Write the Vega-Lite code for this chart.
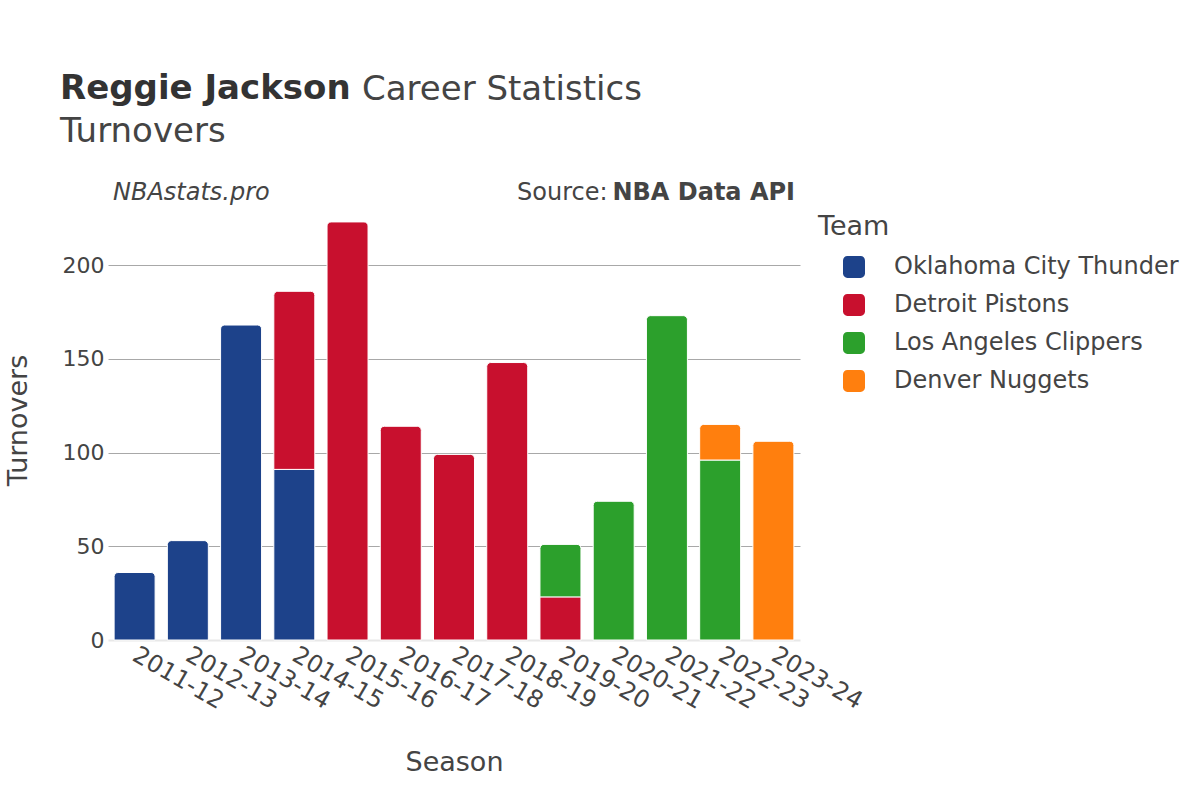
{
  "$schema": "https://vega.github.io/schema/vega-lite/v6.json",
  "width": 692,
  "height": 440,
  "autosize": {"type": "none"},
  "padding": {"left": 108, "top": 200, "right": 400, "bottom": 160},
  "background": "white",
  "config": {
    "font": "DejaVu Sans",
    "view": {"stroke": null}
  },
  "title": {
    "text": "Reggie Jackson",
    "subtitle": "Turnovers",
    "anchor": "start",
    "frame": "group",
    "dx": -48,
    "offset": -76,
    "fontSize": 34,
    "fontWeight": "bold",
    "color": "#333333",
    "subtitleFontSize": 34,
    "subtitleColor": "#444444",
    "subtitleFontWeight": "normal",
    "subtitlePadding": 9
  },
  "datasets": {
    "stats": [
      {"season": "2011-12", "team": "Oklahoma City Thunder", "turnovers": 36},
      {"season": "2012-13", "team": "Oklahoma City Thunder", "turnovers": 53},
      {"season": "2013-14", "team": "Oklahoma City Thunder", "turnovers": 168},
      {"season": "2014-15", "team": "Oklahoma City Thunder", "turnovers": 91},
      {"season": "2014-15", "team": "Detroit Pistons", "turnovers": 95},
      {"season": "2015-16", "team": "Detroit Pistons", "turnovers": 223},
      {"season": "2016-17", "team": "Detroit Pistons", "turnovers": 114},
      {"season": "2017-18", "team": "Detroit Pistons", "turnovers": 99},
      {"season": "2018-19", "team": "Detroit Pistons", "turnovers": 148},
      {"season": "2019-20", "team": "Detroit Pistons", "turnovers": 23},
      {"season": "2019-20", "team": "Los Angeles Clippers", "turnovers": 28},
      {"season": "2020-21", "team": "Los Angeles Clippers", "turnovers": 74},
      {"season": "2021-22", "team": "Los Angeles Clippers", "turnovers": 173},
      {"season": "2022-23", "team": "Los Angeles Clippers", "turnovers": 96},
      {"season": "2022-23", "team": "Denver Nuggets", "turnovers": 19},
      {"season": "2023-24", "team": "Denver Nuggets", "turnovers": 106}
    ],
    "notes": [
      {"label": "Career Statistics", "kind": "title"},
      {"label": "NBAstats.pro", "kind": "credit"},
      {"label": "Source:", "kind": "source"},
      {"label": "NBA Data API", "kind": "sourcebold"}
    ]
  },
  "layer": [
    {
      "data": {"name": "stats"},
      "transform": [
        {"window": [{"op": "row_number", "as": "idx"}]},
        {"stack": "turnovers", "groupby": ["season"], "sort": [{"field": "idx", "order": "ascending"}], "as": ["y0", "y1"]},
        {"joinaggregate": [{"op": "max", "field": "y1", "as": "top"}], "groupby": ["season"]},
        {"filter": "datum.y1 < datum.top"}
      ],
      "mark": {"type": "bar", "stroke": "white", "strokeWidth": 1},
      "encoding": {
        "x": {"field": "season", "type": "nominal",
          "sort": ["2011-12", "2012-13", "2013-14", "2014-15", "2015-16", "2016-17", "2017-18", "2018-19", "2019-20", "2020-21", "2021-22", "2022-23", "2023-24"],
          "scale": {"domain": ["2011-12", "2012-13", "2013-14", "2014-15", "2015-16", "2016-17", "2017-18", "2018-19", "2019-20", "2020-21", "2021-22", "2022-23", "2023-24"], "paddingInner": 0.23, "paddingOuter": 0.115},
          "axis": {"title": "Season", "labelAngle": 30, "labelAlign": "left", "labelBaseline": "middle",
            "labelFontSize": 24, "labelColor": "#444444", "ticks": false, "labelPadding": 13,
            "domain": true, "domainColor": "#e8e8e8", "domainWidth": 2,
            "titleFontSize": 27, "titleFontWeight": "normal", "titleColor": "#444444", "titlePadding": 36}},
        "y": {"field": "y1", "type": "quantitative",
          "scale": {"domain": [0, 234.7], "nice": false, "zero": true},
          "axis": {"title": "Turnovers", "values": [0, 50, 100, 150, 200], "labelFontSize": 22, "labelColor": "#444444",
            "ticks": false, "domain": false, "labelPadding": 4,
            "gridColor": {"condition": {"test": "datum.value === 0", "value": "transparent"}, "value": "#a8a8a8"},
            "gridWidth": 1,
            "titleFontSize": 27, "titleFontWeight": "normal", "titleColor": "#444444", "titlePadding": 30}},
        "y2": {"field": "y0"},
        "color": {"field": "team", "type": "nominal",
          "scale": {"domain": ["Oklahoma City Thunder", "Detroit Pistons", "Los Angeles Clippers", "Denver Nuggets"],
            "range": ["#1d428a", "#c8102e", "#2ca02c", "#ff7f0e"]},
          "legend": {"title": "Team", "orient": "none", "legendX": 710, "legendY": 14,
            "titleFontSize": 27, "titleFontWeight": "normal", "titleColor": "#444444", "titlePadding": 14,
            "labelFontSize": 24, "labelColor": "#444444", "labelOffset": 28, "labelLimit": 0,
            "symbolType": "M-1,-0.6A0.4,0.4,0,0,1,-0.6,-1L0.6,-1A0.4,0.4,0,0,1,1,-0.6L1,0.6A0.4,0.4,0,0,1,0.6,1L-0.6,1A0.4,0.4,0,0,1,-1,0.6Z",
            "symbolSize": 484, "symbolStrokeWidth": 0, "symbolOffset": 24, "rowPadding": 14, "padding": 0}}
      }
    },
    {
      "data": {"name": "stats"},
      "transform": [
        {"window": [{"op": "row_number", "as": "idx"}]},
        {"stack": "turnovers", "groupby": ["season"], "sort": [{"field": "idx", "order": "ascending"}], "as": ["y0", "y1"]},
        {"joinaggregate": [{"op": "max", "field": "y1", "as": "top"}], "groupby": ["season"]},
        {"filter": "datum.y1 >= datum.top"}
      ],
      "mark": {"type": "bar", "stroke": "white", "strokeWidth": 1, "cornerRadiusTopLeft": 4, "cornerRadiusTopRight": 4},
      "encoding": {
        "x": {"field": "season", "type": "nominal",
          "sort": ["2011-12", "2012-13", "2013-14", "2014-15", "2015-16", "2016-17", "2017-18", "2018-19", "2019-20", "2020-21", "2021-22", "2022-23", "2023-24"]},
        "y": {"field": "y1", "type": "quantitative"},
        "y2": {"field": "y0"},
        "color": {"field": "team", "type": "nominal"}
      }
    },
    {
      "data": {"name": "notes"},
      "transform": [{"filter": "datum.kind === 'title'"}],
      "mark": {"type": "text", "align": "left", "baseline": "alphabetic", "fontSize": 34, "color": "#444444"},
      "encoding": {"text": {"field": "label"}, "x": {"value": 254}, "y": {"value": -100}}
    },
    {
      "data": {"name": "notes"},
      "transform": [{"filter": "datum.kind === 'credit'"}],
      "mark": {"type": "text", "align": "left", "baseline": "alphabetic", "fontSize": 24, "fontStyle": "italic", "color": "#444444"},
      "encoding": {"text": {"field": "label"}, "x": {"value": 5}, "y": {"value": 0}}
    },
    {
      "data": {"name": "notes"},
      "transform": [{"filter": "datum.kind === 'source'"}],
      "mark": {"type": "text", "align": "left", "baseline": "alphabetic", "fontSize": 24, "color": "#444444"},
      "encoding": {"text": {"field": "label"}, "x": {"value": 409}, "y": {"value": 0}}
    },
    {
      "data": {"name": "notes"},
      "transform": [{"filter": "datum.kind === 'sourcebold'"}],
      "mark": {"type": "text", "align": "right", "baseline": "alphabetic", "fontSize": 24, "fontWeight": "bold", "color": "#444444"},
      "encoding": {"text": {"field": "label"}, "x": {"value": 687}, "y": {"value": 0}}
    }
  ]
}
